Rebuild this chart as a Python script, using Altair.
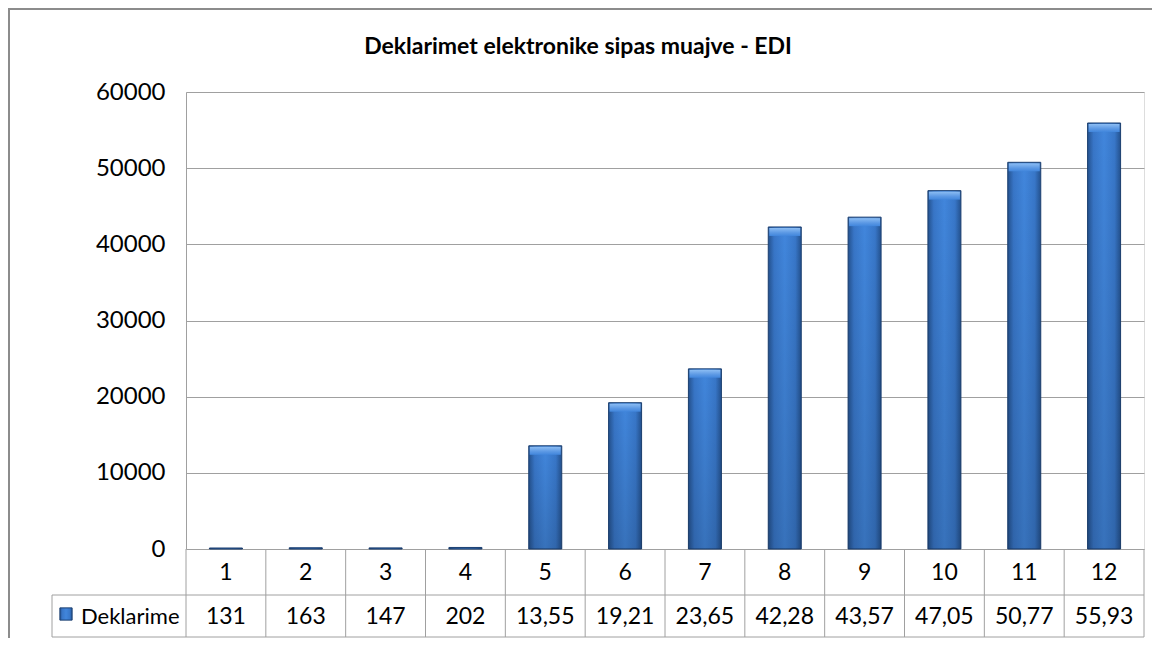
import altair as alt
import pandas as pd

# ---- data ----
months = [1, 2, 3, 4, 5, 6, 7, 8, 9, 10, 11, 12]
values = [131, 163, 147, 202, 13550, 19210, 23650, 42280, 43570, 47050, 50770, 55930]
table_labels = ["131", "163", "147", "202", "13,55", "19,21", "23,65",
                "42,28", "43,57", "47,05", "50,77", "55,93"]
series_name = "Deklarime"
title_text = "Deklarimet elektronike sipas muajve - EDI"
y_ticks = [0, 10000, 20000, 30000, 40000, 50000, 60000]

df = pd.DataFrame({"month": months, "value": values, "label": table_labels})
one = pd.DataFrame({"k": [0]})

W, H = 958, 457
ROW1, ROW2 = 503, 545
FONT = "Lato"
LINE = "#a0a0a0"

xenc = alt.X("month:O", scale=alt.Scale(paddingInner=0, paddingOuter=0), axis=None)

base = alt.Chart(df)

bar_grad = alt.Gradient(
    gradient="linear", x1=0, x2=1, y1=0, y2=0,
    stops=[
        alt.GradientStop(color="#24528f", offset=0),
        alt.GradientStop(color="#3876c8", offset=0.18),
        alt.GradientStop(color="#4186dc", offset=0.5),
        alt.GradientStop(color="#3877c9", offset=0.82),
        alt.GradientStop(color="#24528f", offset=1),
    ],
)
shade_grad = alt.Gradient(
    gradient="linear", x1=0, x2=0, y1=0, y2=1,
    stops=[
        alt.GradientStop(color="rgba(0,0,0,0)", offset=0),
        alt.GradientStop(color="rgba(0,0,0,0.15)", offset=1),
    ],
)
top_grad = alt.Gradient(
    gradient="linear", x1=0, x2=0, y1=0, y2=1,
    stops=[
        alt.GradientStop(color="#8cbdf3", offset=0),
        alt.GradientStop(color="#5b98e4", offset=0.6),
        alt.GradientStop(color="#4186dc", offset=1),
    ],
)

yenc = alt.Y(
    "value:Q",
    scale=alt.Scale(domain=[0, 60000], nice=False),
    axis=alt.Axis(
        values=y_ticks, format="d", title=None, ticks=False,
        labelFont=FONT, labelFontSize=24, labelColor="#000000",
        labelPadding=21, domainColor=LINE, gridColor=LINE, gridWidth=1,
    ),
)

bars = base.mark_bar(size=33, fill=bar_grad, stroke="#1b3f70", strokeWidth=1).encode(
    x=xenc, y=yenc
)
shade = base.mark_bar(size=33, fill=shade_grad).encode(x=xenc, y="value:Q")
bevel = base.transform_filter("datum.value > 1000").mark_tick(
    size=31, thickness=8, fill=top_grad, opacity=1, yOffset=5
).encode(x=xenc, y="value:Q")

# table: header row with months, row with the values
hdr = base.mark_text(font=FONT, fontSize=23, color="#000000", baseline="middle").encode(
    x=xenc, y=alt.value((H + ROW1) / 2 + 1), text="month:N"
)
vals = base.mark_text(font=FONT, fontSize=23, color="#000000", baseline="middle").encode(
    x=xenc, y=alt.value((ROW1 + ROW2) / 2 + 1), text="label:N"
)
col_lines = base.mark_rule(color=LINE, strokeWidth=1).encode(
    x=alt.X("month:O", bandPosition=0, scale=alt.Scale(paddingInner=0, paddingOuter=0), axis=None),
    y=alt.value(H), y2=alt.value(ROW2),
)
ob = alt.Chart(one)
right_line = ob.mark_rule(color=LINE).encode(x=alt.value(W), y=alt.value(H), y2=alt.value(ROW2))
left_line = ob.mark_rule(color=LINE).encode(x=alt.value(-134), y=alt.value(ROW1), y2=alt.value(ROW2))
h1 = ob.mark_rule(color=LINE).encode(x=alt.value(-134), x2=alt.value(W), y=alt.value(ROW1))
h2 = ob.mark_rule(color=LINE).encode(x=alt.value(-134), x2=alt.value(W), y=alt.value(ROW2))

legend_sq = ob.mark_square(size=150, fill=bar_grad, stroke="#1b3f70", strokeWidth=1, opacity=1).encode(
    x=alt.value(-120), y=alt.value(522)
)
legend_txt = ob.mark_text(font=FONT, fontSize=22, color="#000000", align="left", baseline="middle").encode(
    x=alt.value(-105), y=alt.value((ROW1 + ROW2) / 2 + 1), text=alt.value(series_name)
)

title = ob.mark_text(font=FONT, fontSize=23, fontWeight="bold", color="#000000",
                     align="center", baseline="alphabetic").encode(
    x=alt.value(392), y=alt.value(-38), text=alt.value(title_text)
)

frame = ob.mark_rect(fillOpacity=0, stroke="#8c8c8c", strokeWidth=2).encode(
    x=alt.value(-177), x2=alt.value(990), y=alt.value(-83), y2=alt.value(700)
)

chart = alt.layer(
    frame, bars, shade, bevel, col_lines, right_line, left_line, h1, h2,
    hdr, vals, legend_sq, legend_txt, title,
).properties(
    width=W, height=H,
    autosize=alt.AutoSizeParams(type="none"),
    padding={"left": 178, "top": 84, "right": 8, "bottom": 89},
).configure_view(stroke=None).configure(background="white")

chart.save("out.html", embed_options={"renderer": "svg", "actions": False})
